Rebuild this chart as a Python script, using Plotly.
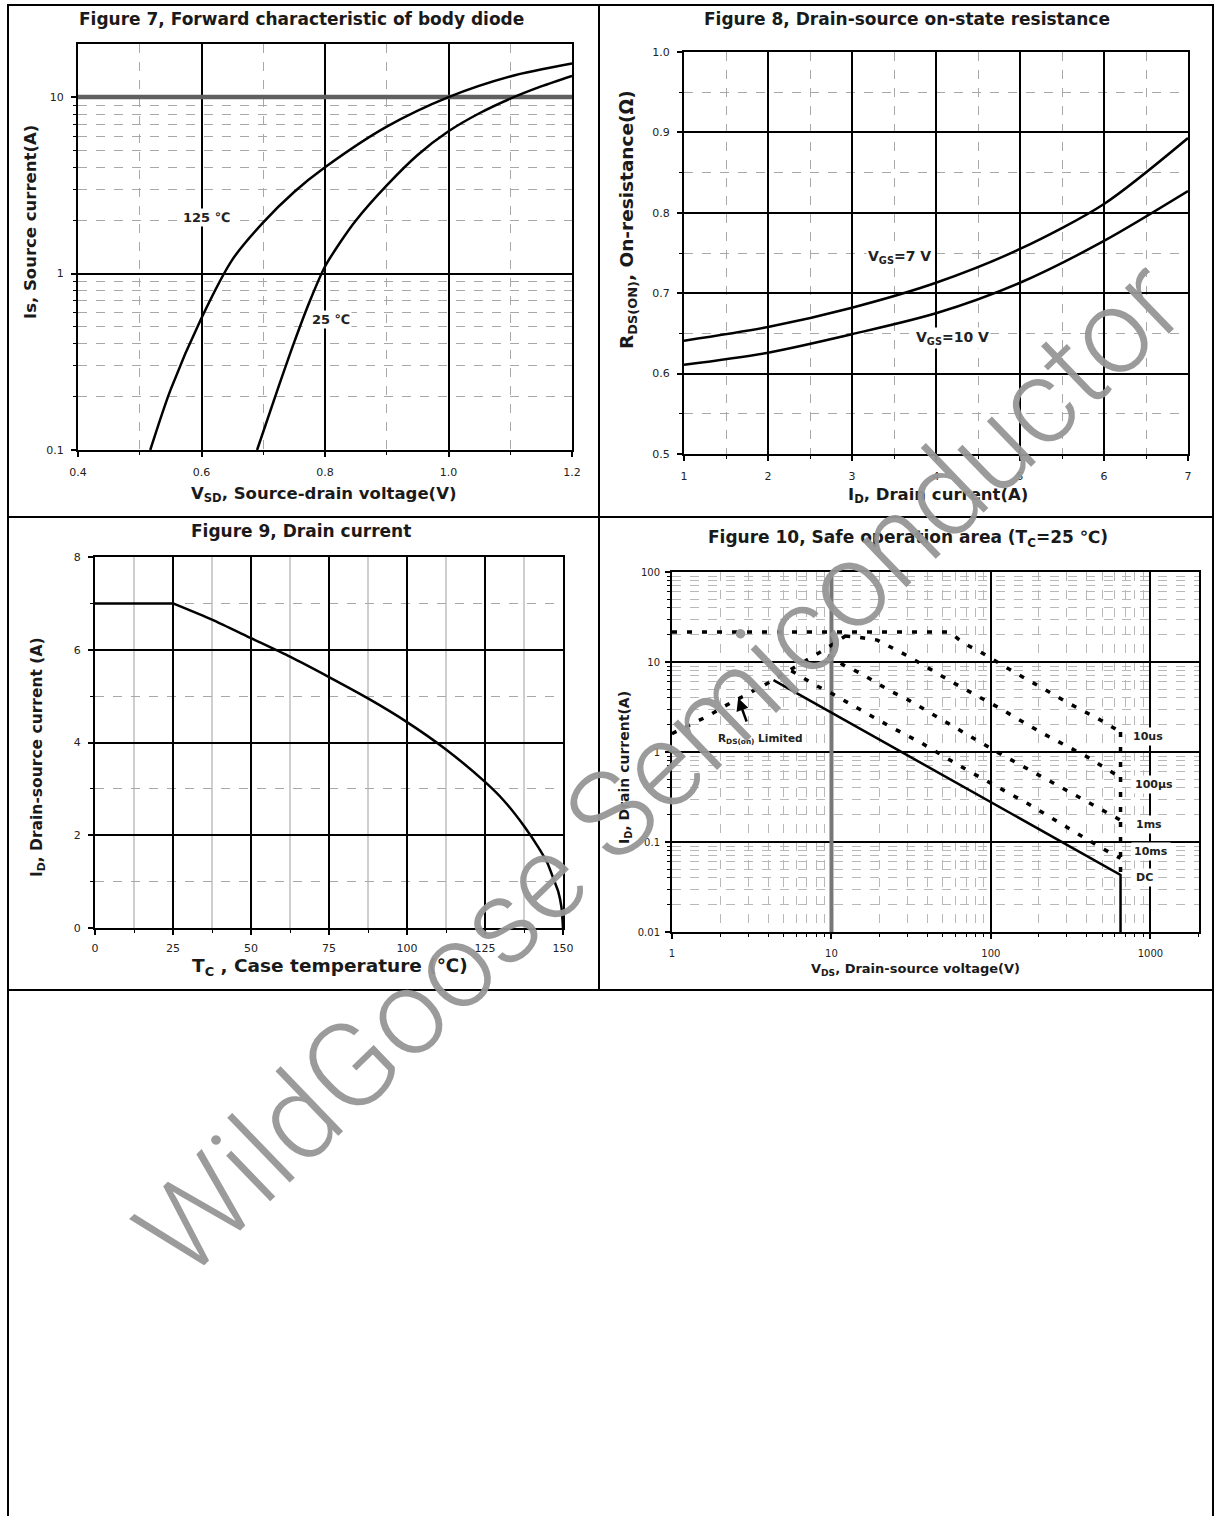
import numpy as np
import plotly.graph_objects as go

W, H = 1216, 1516

# ---------------- Figure 7: body diode forward characteristic ----------------
vsd_125 = [0.517, 0.55, 0.6, 0.65, 0.7, 0.75, 0.8, 0.9, 1.0, 1.1, 1.2]
is_125 = [0.1, 0.22, 0.56, 1.2, 1.95, 2.9, 4.0, 6.8, 10.0, 13.1, 15.5]
vsd_25 = [0.69, 0.72, 0.75, 0.775, 0.8, 0.825, 0.85, 0.9, 0.95, 1.0, 1.05, 1.1, 1.15, 1.2]
is_25 = [0.1, 0.204, 0.407, 0.692, 1.096, 1.51, 2.0, 3.16, 4.7, 6.4, 8.1, 9.8, 11.5, 13.2]
f7_xticks = [0.4, 0.6, 0.8, 1.0, 1.2]
f7_xticktext = ["0.4", "0.6", "0.8", "1.0", "1.2"]
f7_xminor = [0.5, 0.7, 0.9, 1.1]
f7_yticks = [0.1, 1, 10]
f7_yticktext = ["0.1", "1", "10"]
f7_yminor = [0.2, 0.3, 0.4, 0.5, 0.6, 0.7, 0.8, 0.9, 2, 3, 4, 5, 6, 7, 8, 9]
f7_labels = ["125 \u2103", "25 \u2103"]
f7_label_x = [0.608, 0.81]
f7_label_y = [2.08, 0.55]

# ---------------- Figure 8: on-state resistance ----------------
id8 = [1, 2, 3, 4, 5, 6, 7]
rds_7v = [0.641, 0.658, 0.682, 0.713, 0.755, 0.811, 0.893]
rds_10v = [0.611, 0.626, 0.649, 0.675, 0.713, 0.765, 0.827]
f8_xticks = [1, 2, 3, 4, 5, 6, 7]
f8_xminor = [1.5, 2.5, 3.5, 4.5, 5.5, 6.5]
f8_yticks = [0.5, 0.6, 0.7, 0.8, 0.9, 1.0]
f8_yticktext = ["0.5", "0.6", "0.7", "0.8", "0.9", "1.0"]
f8_yminor = [0.55, 0.65, 0.75, 0.85, 0.95]
f8_labels = ["V<sub>GS</sub>=7 V", "V<sub>GS</sub>=10 V"]
f8_label_x = [3.57, 4.2]
f8_label_y = [0.745, 0.644]

# ---------------- Figure 9: drain current vs case temperature ----------------
tc9 = [0, 25, 37.5, 50, 62.5, 75, 87.5, 100, 112.5, 125, 131, 137.5, 142, 145, 147, 148.5, 149.5, 150]
id9 = [7, 7, 6.65, 6.25, 5.85, 5.41, 4.95, 4.44, 3.85, 3.15, 2.75, 2.2, 1.75, 1.4, 1.05, 0.78, 0.45, 0]
f9_xticks = [0, 25, 50, 75, 100, 125, 150]
f9_xminor = [12.5, 37.5, 62.5, 87.5, 112.5, 137.5]
f9_yticks = [0, 2, 4, 6, 8]
f9_yminor = [1, 3, 5, 7]

# ---------------- Figure 10: safe operating area ----------------
rds_lim_v = [1.0, 1.34, 1.68, 2.09, 3.18, 4.0, 4.98, 6.18, 7.68, 9.4, 11.7, 13.3]
rds_lim_i = [1.6, 2.05, 2.51, 3.16, 4.64, 5.84, 7.36, 9.26, 11.4, 14.3, 18.5, 21.5]
us10_v = [1.0, 55, 67, 86, 129, 198, 306, 486, 650]
us10_i = [21.5, 21.5, 16.3, 12.9, 8.4, 5.4, 3.5, 2.27, 1.67]
us100_v = [12.2, 15.1, 19.4, 24, 30, 57, 110, 210, 403, 650]
us100_i = [19.4, 18.7, 17.5, 14.3, 11.7, 6.0, 3.16, 1.62, 0.88, 0.52]
ms1_v = [9.5, 12.2, 15.1, 18.8, 23.4, 29.5, 57, 109, 209, 401, 650]
ms1_i = [11.8, 9.0, 7.55, 6.0, 4.76, 3.9, 1.95, 1.0, 0.53, 0.28, 0.175]
ms10_v = [5.6, 6.36, 7.9, 10.0, 15.1, 23.4, 36.9, 70.8, 169, 498, 650]
ms10_i = [8.0, 6.99, 5.55, 4.49, 2.93, 1.91, 1.25, 0.63, 0.269, 0.085, 0.066]
dc_v = [4.33, 101.6, 650, 650]
dc_i = [6.3, 0.27, 0.043, 0.01]
vmax_v = [650, 650]
vmax_i = [1.67, 0.043]
f10_xticks = [1, 10, 100, 1000]
f10_xticktext = ["1", "10", "100", "1000"]
f10_yticks = [0.01, 0.1, 1, 10, 100]
f10_yticktext = ["0.01", "0.1", "1", "10", "100"]
f10_xminor = [m * d for d in (1, 10, 100) for m in range(2, 10)] + [2000]
f10_yminor = [m * d for d in (0.01, 0.1, 1, 10) for m in range(2, 10)]
f10_labels = ["10us", "100\u03bcs", "1ms", "10ms", "DC"]
f10_label_x = [973, 1047, 986, 1016, 918]
f10_label_y = [1.5, 0.43, 0.155, 0.078, 0.04]
f10_rds_label = "R<sub>DS(on)</sub> Limited"
f10_rds_label_xy = [3.6, 1.40]
f10_arrow_head = [2.6, 3.98]
f10_arrow_tail = [2.96, 2.1]

FONT = "DejaVu Sans"


def px(x):
    return x / W


def py(y):
    return 1 - y / H


def axis(domain, rng, tickvals, ticktext, minor_vals, anchor, typ="linear",
         minor_dash="dash", minor_color="#a8a8a8", minor_width=1, tick_size=11,
         standoff=5):
    return dict(
        domain=domain, range=rng, type=typ, anchor=anchor, automargin=False,
        tickmode="array", tickvals=tickvals, ticktext=ticktext,
        showgrid=True, gridcolor="black", gridwidth=2,
        showline=True, linecolor="black", linewidth=2, mirror=True,
        ticks="outside", ticklen=5, tickwidth=1.5, tickcolor="black",
        ticklabelstandoff=standoff,
        tickfont=dict(family=FONT, size=tick_size, color="#222"),
        zeroline=False, fixedrange=True,
        minor=dict(tickmode="array", tickvals=minor_vals, showgrid=True,
                   gridcolor=minor_color, griddash=minor_dash, gridwidth=minor_width,
                   ticks="outside", ticklen=3, tickwidth=1, tickcolor="black"),
    )


fig = go.Figure()
line = dict(color="black", width=2.5)

# emphasised (thick grey) grid lines, drawn first so curves pass over them
fig.add_trace(go.Scatter(x=[f7_xticks[0], f7_xticks[-1]], y=[f7_yticks[2], f7_yticks[2]], mode="lines",
                         line=dict(color="#606060", width=4.5), xaxis="x", yaxis="y", showlegend=False,
                         hoverinfo="skip"))
fig.add_trace(go.Scatter(x=[f10_xticks[1], f10_xticks[1]], y=[f10_yticks[0], f10_yticks[-1]], mode="lines",
                         line=dict(color="#777777", width=4), xaxis="x4", yaxis="y4", showlegend=False,
                         hoverinfo="skip"))

fig.add_trace(go.Scatter(x=vsd_125, y=is_125, mode="lines", line=dict(shape="spline", smoothing=0.8, **line),
                         xaxis="x", yaxis="y", showlegend=False))
fig.add_trace(go.Scatter(x=vsd_25, y=is_25, mode="lines", line=dict(shape="spline", smoothing=0.8, **line),
                         xaxis="x", yaxis="y", showlegend=False))

fig.add_trace(go.Scatter(x=id8, y=rds_7v, mode="lines", line=dict(shape="spline", smoothing=0.8, **line),
                         xaxis="x2", yaxis="y2", showlegend=False))
fig.add_trace(go.Scatter(x=id8, y=rds_10v, mode="lines", line=dict(shape="spline", smoothing=0.8, **line),
                         xaxis="x2", yaxis="y2", showlegend=False))

fig.add_trace(go.Scatter(x=tc9[:2], y=id9[:2], mode="lines", line=line,
                         xaxis="x3", yaxis="y3", showlegend=False))
fig.add_trace(go.Scatter(x=tc9[1:], y=id9[1:], mode="lines", line=dict(shape="spline", smoothing=0.6, **line),
                         xaxis="x3", yaxis="y3", showlegend=False))

dots = dict(color="black", width=3.5, dash="5px,10px")
for xs, ys in [(rds_lim_v, rds_lim_i), (us10_v, us10_i), (us100_v, us100_i),
               (ms1_v, ms1_i), (ms10_v, ms10_i), (vmax_v, vmax_i)]:
    fig.add_trace(go.Scatter(x=xs, y=ys, mode="lines", line=dots,
                             xaxis="x4", yaxis="y4", showlegend=False))
fig.add_trace(go.Scatter(x=dc_v, y=dc_i, mode="lines", line=dict(color="black", width=2.5),
                         xaxis="x4", yaxis="y4", showlegend=False))

layout = dict(
    width=W, height=H, margin=dict(l=0, r=0, t=0, b=0, autoexpand=False),
    paper_bgcolor="white", plot_bgcolor="white", showlegend=False,
    font=dict(family=FONT, color="#222"),
)
layout["xaxis"] = axis([px(78), px(572)], [0.4, 1.2], f7_xticks, f7_xticktext, f7_xminor, "y", standoff=6)
layout["yaxis"] = axis([py(450), py(44)], [-1, np.log10(20)], f7_yticks, f7_yticktext, f7_yminor, "x",
                       typ="log")
layout["xaxis2"] = axis([px(684), px(1188)], [1, 7], f8_xticks, [str(v) for v in f8_xticks], f8_xminor, "y2",
                        standoff=6)
layout["yaxis2"] = axis([py(454), py(52)], [0.5, 1.0], f8_yticks, f8_yticktext, f8_yminor, "x2")
layout["xaxis3"] = axis([px(95), px(563)], [0, 150], f9_xticks, [str(v) for v in f9_xticks], f9_xminor, "y3",
                        minor_dash="solid", minor_color="#cfcfcf", minor_width=2, standoff=4)
layout["yaxis3"] = axis([py(928), py(557)], [0, 8], f9_yticks, [str(v) for v in f9_yticks], f9_yminor, "x3")
layout["xaxis4"] = axis([px(672), px(1199)], [0, 3.305], f10_xticks, f10_xticktext, f10_xminor, "y4",
                        typ="log", minor_color="#b8b8b8", tick_size=10, standoff=6)
layout["yaxis4"] = axis([py(932), py(572)], [-2, 2], f10_yticks, f10_yticktext, f10_yminor, "x4",
                        typ="log", minor_color="#b8b8b8", tick_size=10, standoff=3)

# page frame
shapes = []
frame = dict(color="black", width=2)
shapes.append(dict(type="rect", xref="paper", yref="paper", x0=px(8), x1=px(1213), y0=-0.02, y1=py(5),
                   line=frame))
shapes.append(dict(type="line", xref="paper", yref="paper", x0=px(599), x1=px(599), y0=py(990), y1=py(5),
                   line=frame))
shapes.append(dict(type="line", xref="paper", yref="paper", x0=px(8), x1=px(1213), y0=py(517), y1=py(517),
                   line=frame))
shapes.append(dict(type="line", xref="paper", yref="paper", x0=px(8), x1=px(1213), y0=py(990), y1=py(990),
                   line=frame))
layout["shapes"] = shapes

ann = []


def text(x, y, s, size, angle=0, color="#1a1a1a", weight="bold"):
    ann.append(dict(x=px(x), y=py(y), xref="paper", yref="paper", text=s, showarrow=False,
                    textangle=angle, font=dict(family=FONT, size=size, color=color, weight=weight),
                    xanchor="center", yanchor="middle"))


text(301, 19, "Figure 7, Forward characteristic of body diode", 17)
text(907, 19, "Figure 8, Drain-source on-state resistance", 17)
text(301, 531, "Figure 9, Drain current", 17)
text(908, 538, "Figure 10, Safe operation area (T<sub>C</sub>=25 \u2103)", 17)

text(323, 494, "V<sub>SD</sub>, Source-drain voltage(V)", 16.5)
text(30, 222, "Is, Source current(A)", 16.5, -90)
text(938, 495, "I<sub>D</sub>, Drain current(A)", 16.5)
text(628, 220, "R<sub>DS(ON)</sub>, On-resistance(\u03a9)", 18.5, -90)
text(330, 967, "T<sub>C</sub> , Case temperature (\u2103)", 18.5)
text(38, 757, "I<sub>D</sub>, Drain-source current (A)", 15.5, -90)
text(915, 969, "V<sub>DS</sub>, Drain-source voltage(V)", 13)
text(625, 768, "I<sub>D</sub>, Drain current(A)", 14, -90)

for s, x, y in zip(f7_labels, f7_label_x, f7_label_y):
    ann.append(dict(x=x, y=np.log10(y), xref="x", yref="y", text=s, showarrow=False,
                    font=dict(family=FONT, size=13, color="#222", weight="bold"), bgcolor="white", borderpad=1))
for s, x, y in zip(f8_labels, f8_label_x, f8_label_y):
    ann.append(dict(x=x, y=y, xref="x2", yref="y2", text=s, showarrow=False,
                    font=dict(family=FONT, size=14, color="#222", weight="bold"), bgcolor="white", borderpad=1))
for s, x, y in zip(f10_labels, f10_label_x, f10_label_y):
    ann.append(dict(x=np.log10(x), y=np.log10(y), xref="x4", yref="y4", text=s, showarrow=False,
                    font=dict(family=FONT, size=11, color="#222", weight="bold"), bgcolor="white", borderpad=2))
ann.append(dict(x=np.log10(f10_rds_label_xy[0]), y=np.log10(f10_rds_label_xy[1]), xref="x4", yref="y4",
                text=f10_rds_label, showarrow=False, font=dict(family=FONT, size=10.5, color="#222", weight="bold"),
                bgcolor="white", borderpad=3))
ann.append(dict(x=np.log10(f10_arrow_head[0]), y=np.log10(f10_arrow_head[1]), xref="x4", yref="y4",
                ax=np.log10(f10_arrow_tail[0]), ay=np.log10(f10_arrow_tail[1]), axref="x4", ayref="y4",
                text="", showarrow=True, arrowhead=2, arrowsize=1, arrowwidth=2.5, arrowcolor="black"))

# watermark
ann.append(dict(x=px(660), y=py(768), xref="paper", yref="paper", text="WildGoose Semiconductor",
                showarrow=False, textangle=-44,
                font=dict(family="Roboto", size=120, weight=300, color="rgba(150,150,150,0.95)"),
                xanchor="center", yanchor="middle"))
layout["annotations"] = ann

fig.update_layout(**layout)
fig.write_html("out.html", config={"displayModeBar": False},
               post_script="document.body.style.margin='0';")
